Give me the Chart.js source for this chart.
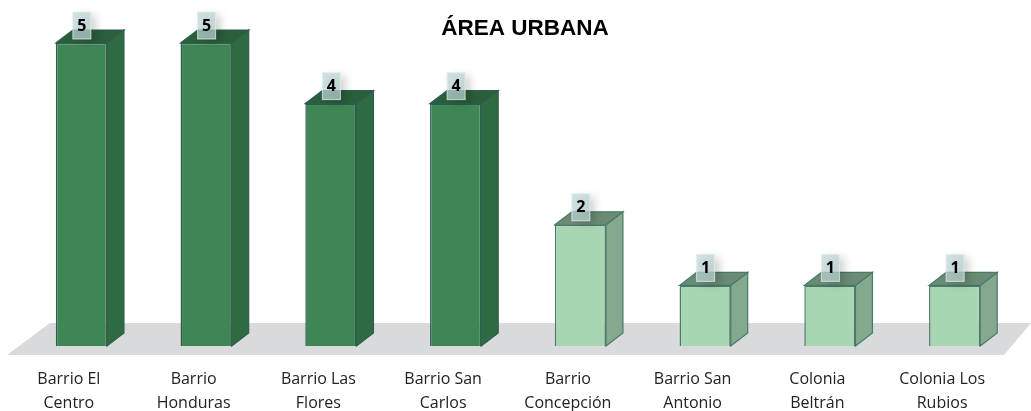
<!DOCTYPE html>
<html lang="es">
<head>
<meta charset="utf-8">
<title>Área urbana</title>
<script src="https://cdn.jsdelivr.net/npm/chart.js@4/dist/chart.umd.min.js"></script>
<style>
  html, body { margin: 0; background: #fff; }
  #wrap { width: 1031px; height: 411px; }
</style>
</head>
<body>
<div id="wrap"><canvas id="chart"></canvas></div>
<script>
const categories = [
  ["Barrio El", "Centro"],
  ["Barrio", "Honduras"],
  ["Barrio Las", "Flores"],
  ["Barrio San", "Carlos"],
  ["Barrio", "Concepción"],
  ["Barrio San", "Antonio"],
  ["Colonia", "Beltrán"],
  ["Colonia Los", "Rubios"],
];
const values = [5, 5, 4, 4, 2, 1, 1, 1];

const dark = { front: "#3f8655", side: "#2f6b42", top: "#2b5e3a", line: "#2f5d50" };
const light = { front: "#a8d6b2", side: "#84a98e", top: "#6b8b74", line: "#4a7a6a" };
const paletteFor = (v) => (v >= 4 ? dark : light);
const depthX = 17;
const depthY = 13;

function poly(ctx, pts, fill, stroke) {
  ctx.beginPath();
  pts.forEach(([x, y], i) => (i ? ctx.lineTo(x, y) : ctx.moveTo(x, y)));
  ctx.closePath();
  ctx.fillStyle = fill;
  ctx.fill();
  if (stroke) {
    ctx.strokeStyle = stroke;
    ctx.lineWidth = 1.2;
    ctx.stroke();
  }
}

// suelo gris y caras laterales de cada barra
const box3d = {
  id: "box3d",
  afterLayout(chart) {
    // the title sits a little right of the middle in the original
    chart.titleBlock.left += 7;
    chart.titleBlock.right += 7;
  },
  beforeDatasetsDraw(chart) {
    const { ctx, chartArea: a } = chart;
    poly(ctx, [
      [a.left - 12, a.bottom + 9],
      [a.left + 31, a.bottom - 23],
      [a.right + 14, a.bottom - 23],
      [a.right - 13, a.bottom + 9],
    ], "#d9dadc");
    chart.getDatasetMeta(0).data.forEach((bar, i) => {
      const c = paletteFor(values[i]);
      const l = bar.x - bar.width / 2;
      const r = bar.x + bar.width / 2;
      poly(ctx, [[r, bar.y], [r + depthX, bar.y - depthY], [r + depthX, bar.base - depthY], [r, bar.base]], c.side, c.line);
      poly(ctx, [[l, bar.y], [l + depthX, bar.y - depthY], [r + depthX, bar.y - depthY], [r, bar.y]], c.top, c.line);
    });
  },
  afterDatasetsDraw(chart) {
    const { ctx } = chart;
    chart.getDatasetMeta(0).data.forEach((bar, i) => {
      const x = bar.x + 0.5;
      const y = bar.y - 17;
      ctx.save();
      ctx.shadowColor = "rgba(0,0,0,0.25)";
      ctx.shadowBlur = 9;
      ctx.shadowOffsetX = 5;
      ctx.shadowOffsetY = 3;
      ctx.fillStyle = "rgba(188,214,214,0.72)";
      ctx.fillRect(x - 9, y - 14, 18, 27);
      ctx.restore();
      ctx.strokeStyle = "rgba(225,238,238,0.8)";
      ctx.lineWidth = 1;
      ctx.strokeRect(x - 9, y - 14, 18, 27);
      ctx.fillStyle = "#000";
      ctx.font = "bold 16px 'Open Sans'";
      ctx.textAlign = "center";
      ctx.textBaseline = "middle";
      ctx.fillText(values[i], x, y);
    });
  },
};

new Chart(document.getElementById("chart"), {
  type: "bar",
  plugins: [box3d],
  data: {
    labels: categories,
    datasets: [
      {
        data: values,
        backgroundColor: (c) => paletteFor(c.raw).front,
        borderColor: (c) => paletteFor(c.raw).line,
        borderWidth: 1.5,
        barPercentage: 0.41,
        categoryPercentage: 1,
      },
    ],
  },
  options: {
    responsive: true,
    maintainAspectRatio: false,
    animation: false,
    layout: { padding: { left: 19, right: 14, top: 0, bottom: 0 } },
    plugins: {
      legend: { display: false },
      tooltip: { enabled: false },
      title: {
        display: true,
        text: "ÁREA URBANA",
        color: "#000",
        font: { family: "Liberation Sans", size: 22.5, weight: "bold", lineHeight: 1.3 },
        padding: { top: 13.75, bottom: 0 },
      },
    },
    scales: {
      x: {
        grid: { display: false },
        border: { display: false },
        afterFit: (scale) => {
          scale.height = 65;
        },
        ticks: {
          color: "#222",
          font: { family: "Open Sans", size: 16, lineHeight: 1.5 },
          padding: 13,
          labelOffset: -12.5,
          maxRotation: 0,
          autoSkip: false,
        },
      },
      y: {
        display: false,
        min: 0,
        max: 5,
      },
    },
  },
});
</script>
</body>
</html>
